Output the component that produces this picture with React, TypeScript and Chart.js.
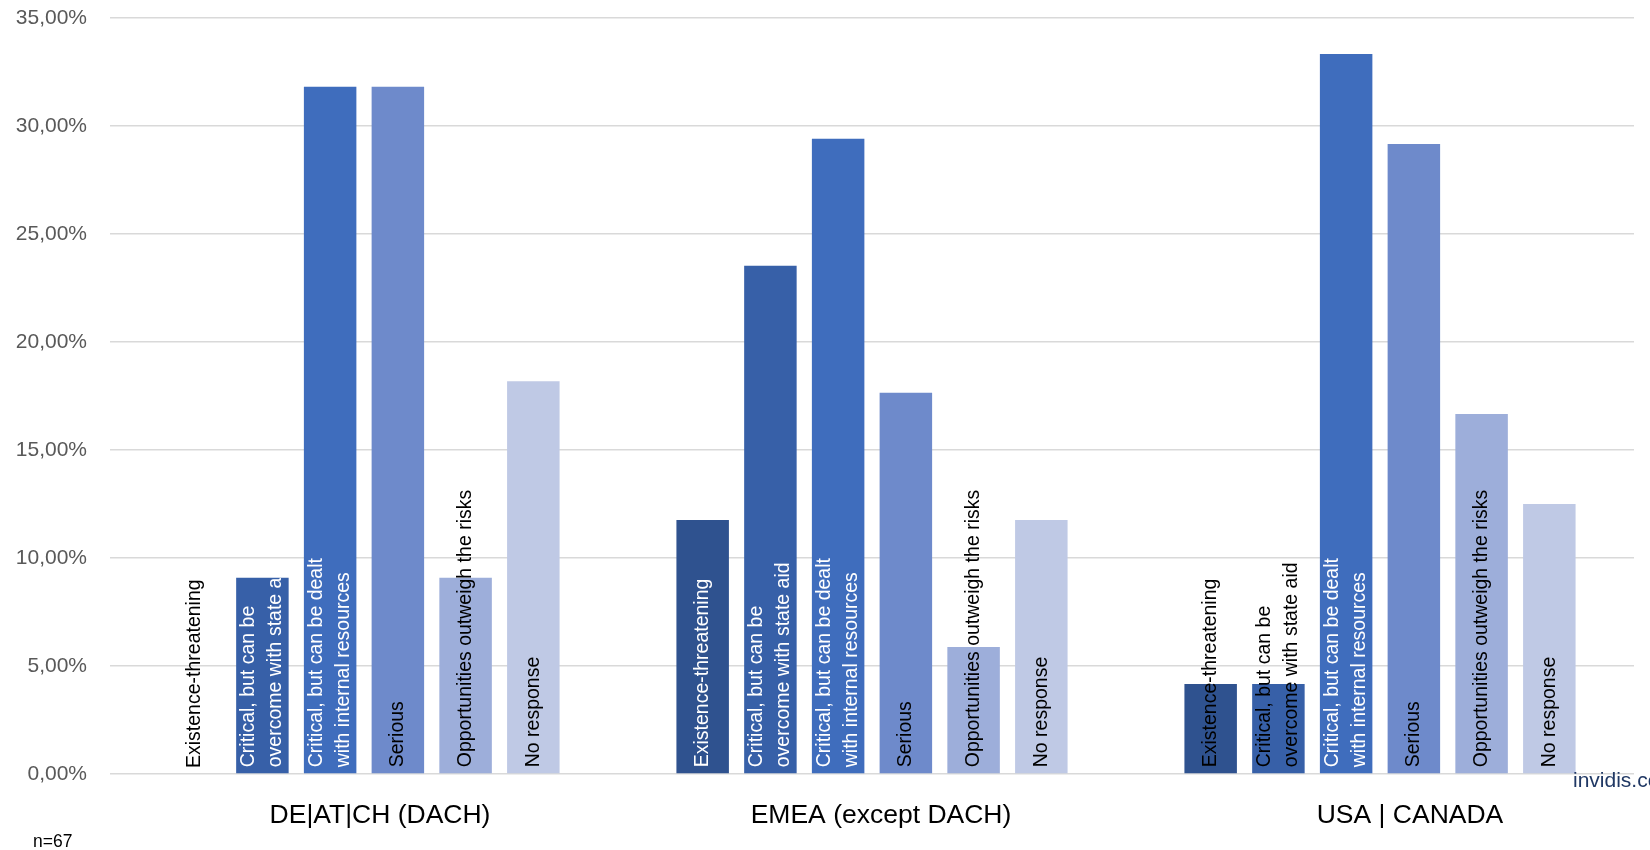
import React, { useEffect, useRef } from "react";
import { Chart, registerables } from "chart.js";

Chart.register(...registerables);

const categories = ["DE|AT|CH (DACH)", "EMEA (except DACH)", "USA | CANADA"];
const seriesNames = [
  "Existence-threatening",
  "Critical, but can be overcome with state aid",
  "Critical, but can be dealt with internal resources",
  "Serious",
  "Opportunities outweigh the risks",
  "No response",
];
const seriesLabelLines = [
  ["Existence-threatening"],
  ["Critical, but can be", "overcome with state aid"],
  ["Critical, but can be dealt", "with internal resources"],
  ["Serious"],
  ["Opportunities outweigh the risks"],
  ["No response"],
];
const existenceThreatening = [0, 11.76, 4.17];
const stateAid = [9.09, 23.53, 4.17];
const internalResources = [31.82, 29.41, 33.33];
const serious = [31.82, 17.65, 29.17];
const opportunities = [9.09, 5.88, 16.67];
const noResponse = [18.18, 11.76, 12.5];
const yTickValues = [0, 5, 10, 15, 20, 25, 30, 35];
const sampleNote = "n=67";
const sourceNote = "invidis.com";

const seriesValues = [existenceThreatening, stateAid, internalResources, serious, opportunities, noResponse];
const seriesColors = ["#2F528F", "#3760A8", "#3F6DBD", "#6E8ACB", "#9DAEDA", "#BFC9E5"];
const whiteLabelSeries = [0, 1, 2];
const clippedLabelPoints = [[1, 0]];
const categoryLabelShift = [16, 9, 30];

const FONT = "'Liberation Sans', Arial, sans-serif";

const fmtPct = (v: number) => v.toFixed(2).replace(".", ",") + "%";

const barLabelPlugin = {
  id: "barLabels",
  afterDatasetsDraw(chart: any) {
    const ctx = chart.ctx;
    const pad = 6;
    const lineH = 27;
    chart.data.datasets.forEach((ds: any, di: number) => {
      const meta = chart.getDatasetMeta(di);
      const lines = seriesLabelLines[di];
      meta.data.forEach((bar: any, i: number) => {
        const { x, y, base, width } = bar.getProps(["x", "y", "base", "width"], true);
        ctx.save();
        ctx.font = "19.5px " + FONT;
        const maxW = Math.max(...lines.map((l: string) => ctx.measureText(l).width));
        const barH = base - y;
        const fits = maxW + pad * 2 <= barH;
        const clip = clippedLabelPoints.some((p) => p[0] === di && p[1] === i);
        const white = whiteLabelSeries.includes(di) && (fits || clip);
        ctx.fillStyle = white ? "#ffffff" : "#000000";
        if (clip) {
          ctx.beginPath();
          ctx.rect(x - width / 2, y, width, barH);
          ctx.clip();
        }
        ctx.translate(x, base - pad);
        ctx.rotate(-Math.PI / 2);
        ctx.textAlign = "left";
        ctx.textBaseline = "middle";
        lines.forEach((l: string, li: number) => {
          ctx.fillText(l, 0, (li - (lines.length - 1) / 2) * lineH);
        });
        ctx.restore();
      });
    });
  },
  afterDraw(chart: any) {
    const ctx = chart.ctx;
    const xs = chart.scales.x;
    ctx.save();
    ctx.font = "26.5px " + FONT;
    ctx.fillStyle = "#000000";
    ctx.textAlign = "center";
    ctx.textBaseline = "alphabetic";
    categories.forEach((c, i) => {
      ctx.fillText(c, xs.getPixelForValue(i) + categoryLabelShift[i], chart.chartArea.bottom + 49);
    });
    ctx.textAlign = "left";
    ctx.font = "17.5px " + FONT;
    ctx.fillText(sampleNote, 33, 847);
    ctx.font = "21px " + FONT;
    ctx.fillStyle = "#203864";
    ctx.fillText(sourceNote, 1573, 787);
    ctx.restore();
  },
};

export default function App() {
  const ref = useRef<HTMLCanvasElement | null>(null);
  useEffect(() => {
    if (!ref.current) return;
    const chart = new Chart(ref.current, {
      type: "bar",
      data: {
        labels: categories,
        datasets: seriesNames.map((name, i) => ({
          label: name,
          data: seriesValues[i],
          backgroundColor: seriesColors[i],
          borderWidth: 0,
          barPercentage: 0.775,
          categoryPercentage: 0.8,
        })),
      },
      options: {
        responsive: false,
        animation: false,
        layout: { padding: { top: 18, right: 16, left: 0, bottom: 0 } },
        plugins: {
          legend: { display: false },
          tooltip: { enabled: false },
        },
        scales: {
          x: {
            grid: { display: false },
            border: { display: false },
            ticks: { display: false },
            afterFit: (s: any) => {
              s.height = 76;
              s.paddingLeft = 0;
              s.paddingRight = 0;
            },
          },
          y: {
            min: 0,
            max: 35,
            afterBuildTicks: (s: any) => {
              s.ticks = yTickValues.map((v) => ({ value: v }));
            },
            ticks: {
              callback: (v: any) => fmtPct(Number(v)),
              color: "#595959",
              font: { family: FONT, size: 21 },
              padding: 23,
            },
            grid: { color: "#d9d9d9", lineWidth: 1.5, drawTicks: false },
            border: { display: false },
            afterFit: (s: any) => {
              s.width = 110;
              s.paddingTop = 0;
              s.paddingBottom = 0;
            },
          },
        },
      },
      plugins: [barLabelPlugin],
    });
    return () => chart.destroy();
  }, []);
  return (
    <div style={{ position: "absolute", left: 0, top: 0, width: 1650, height: 850, background: "#fff" }}>
      <canvas ref={ref} width={1650} height={850} style={{ display: "block" }} />
    </div>
  );
}
